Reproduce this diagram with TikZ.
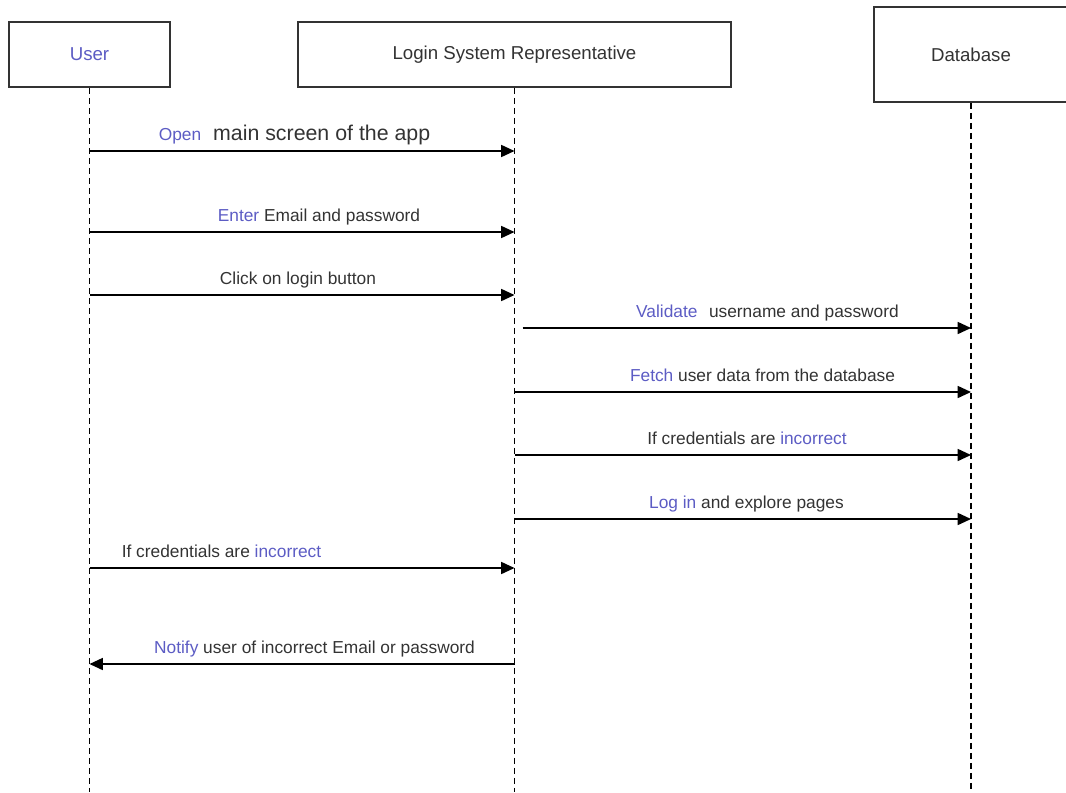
\documentclass[tikz,border=0pt]{standalone}
\usepackage{fontspec}
\setmainfont{Liberation Sans}
\usetikzlibrary{arrows.meta}
\definecolor{ublue}{RGB}{92,92,196}
\definecolor{ink}{RGB}{51,51,51}
\tikzset{every picture/.style={line width=1.2pt}}

\begin{document}
\begin{tikzpicture}[x=0.75pt, y=-0.75pt, >={Triangle[length=10pt,width=9pt]},
    actor/.style={rectangle, draw=ink, fill=white, minimum height=48.75pt, text=ink, font=\fontsize{14}{17}\selectfont},
    lifeline/.style={draw=black, line width=1.3pt, dash pattern=on 4.5pt off 3pt},
    msg/.style={->, draw=black},
    msgtext/.style={anchor=south, inner xsep=0pt, inner ysep=7.5pt, text depth=0pt, text=ink, font=\fontsize{13}{16}\selectfont}]
    \useasboundingbox (0,0) rectangle (1066,792);
    % participants
    \node[actor, minimum width=120.75pt, text=ublue] (user) at (89.5,54.5) {User};
    \node[actor, minimum width=324.75pt] (lsr) at (514.5,54.5) {Login System Representative};
    \node[actor, minimum width=145.5pt, minimum height=71.25pt] (db) at (971,54.5) {Database};
    % lifelines
    \coordinate (bottom) at (0,792);
    \draw[lifeline] (user.south) -- (user |- bottom);
    \draw[lifeline] (lsr.south) -- (lsr |- bottom);
    \draw[lifeline] (db.south) -- (db |- bottom);
    % user -> login system
    \node[msgtext] (m1) at (294.5,151) {\textcolor{ublue}{Open}\hspace{9pt}{\fontsize{16}{19}\selectfont main screen of the app}};
    \node[msgtext] (m2) at (319,232) {\textcolor{ublue}{Enter} Email and password};
    \node[msgtext] (m3) at (298,295) {Click on login button};
    \draw[msg] (user |- m1.south) -- (lsr |- m1.south);
    \draw[msg] (user |- m2.south) -- (lsr |- m2.south);
    \draw[msg] (user |- m3.south) -- (lsr |- m3.south);
    % login system -> database
    \node[msgtext] (m4) at (767.5,328) {\textcolor{ublue}{Validate}\hspace{5pt} username and password};
    \node[msgtext] (m5) at (762.5,392) {\textcolor{ublue}{Fetch} user data from the database};
    \node[msgtext] (m6) at (747,455) {If credentials are \textcolor{ublue}{incorrect}};
    \node[msgtext] (m7) at (746.5,519) {\textcolor{ublue}{Log in} and explore pages};
    \draw[msg] ([xshift=6pt]lsr |- m4.south) -- (db |- m4.south);
    \draw[msg] (lsr |- m5.south) -- (db |- m5.south);
    \draw[msg] (lsr |- m6.south) -- (db |- m6.south);
    \draw[msg] (lsr |- m7.south) -- (db |- m7.south);
    % back to the user
    \node[msgtext] (m8) at (221.5,568) {If credentials are \textcolor{ublue}{incorrect}};
    \node[msgtext] (m9) at (314.5,664) {\textcolor{ublue}{Notify} user of incorrect Email or password};
    \draw[msg] (user |- m8.south) -- (lsr |- m8.south);
    \draw[msg] (lsr |- m9.south) -- (user |- m9.south);
\end{tikzpicture}
\end{document}
